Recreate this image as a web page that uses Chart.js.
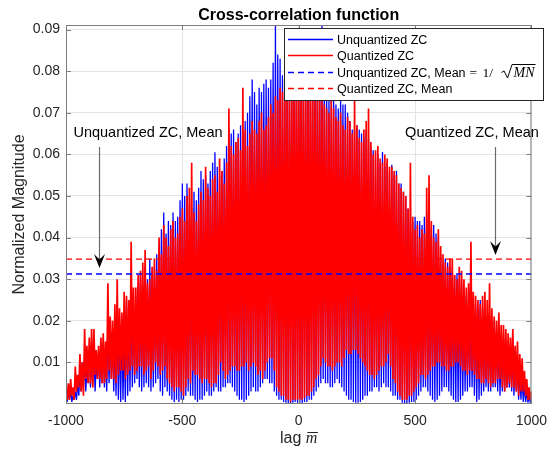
<!DOCTYPE html>
<html>
<head>
<meta charset="utf-8">
<script src="https://cdn.jsdelivr.net/npm/chart.js@4.4.0/dist/chart.umd.min.js"></script>
<style>
  html, body { margin: 0; padding: 0; background: #fff; }
  #wrap { width: 556px; height: 450px; position: relative; }
</style>
</head>
<body>
<div id="wrap"><canvas id="xcorrChart"></canvas></div>
<script>
// lag axis: -1000 .. 1000, one sample every 5 lags
const lagStart = -1000;
const lagStep = 5;

// |cross-correlation| (peak / trough alternating), one row = 100 lags
const unquantized = [
  0.002, 0.0005, 0.003, 0.001, 0.004, 0.0005, 0.002, 0.001, 0.003, 0.001, 0.005, 0.002, 0.008, 0.003, 0.010, 0.004, 0.012, 0.003, 0.009, 0.005,
  0.013, 0.004, 0.011, 0.005, 0.014, 0.003, 0.010, 0.006, 0.012, 0.004, 0.013, 0.005, 0.015, 0.004, 0.012, 0.003, 0.020, 0.005, 0.016, 0.006,
  0.018, 0.003, 0.015, 0.002, 0.022, 0.001, 0.019, 0.0005, 0.021, 0.001, 0.017, 0.0005, 0.025, 0.002, 0.022, 0.003, 0.028, 0.004, 0.024, 0.005,
  0.026, 0.006, 0.029, 0.004, 0.031, 0.003, 0.027, 0.004, 0.033, 0.005, 0.030, 0.004, 0.035, 0.003, 0.032, 0.004, 0.033, 0.005, 0.036, 0.006,
  0.038, 0.003, 0.042, 0.002, 0.046, 0.004, 0.041, 0.003, 0.044, 0.002, 0.043, 0.001, 0.046, 0.0005, 0.044, 0.001, 0.045, 0.0005, 0.049, 0.001,
  0.053, 0.001, 0.050, 0.002, 0.053, 0.003, 0.048, 0.002, 0.047, 0.002, 0.051, 0.001, 0.049, 0.0005, 0.052, 0.001, 0.056, 0.001, 0.054, 0.002,
  0.055, 0.003, 0.053, 0.002, 0.056, 0.002, 0.058, 0.003, 0.0605, 0.004, 0.057, 0.003, 0.055, 0.003, 0.056, 0.004, 0.059, 0.004, 0.062, 0.005,
  0.066, 0.005, 0.065, 0.004, 0.066, 0.003, 0.063, 0.002, 0.065, 0.001, 0.067, 0.001, 0.065, 0.0005, 0.068, 0.001, 0.070, 0.002, 0.074, 0.003,
  0.078, 0.004, 0.075, 0.003, 0.072, 0.003, 0.076, 0.004, 0.075, 0.005, 0.077, 0.006, 0.078, 0.006, 0.076, 0.005, 0.078, 0.005, 0.082, 0.003,
  0.091, 0.002, 0.084, 0.001, 0.083, 0.001, 0.079, 0.0005, 0.080, 0.0003, 0.078, 0.0002, 0.077, 0.0002, 0.080, 0.0003, 0.079, 0.0005, 0.081, 0.0003,
  0.081, 0.0003, 0.078, 0.0002, 0.079, 0.0005, 0.077, 0.0005, 0.076, 0.001, 0.079, 0.001, 0.078, 0.002, 0.081, 0.003, 0.080, 0.004, 0.084, 0.005,
  0.091, 0.006, 0.078, 0.005, 0.075, 0.005, 0.073, 0.004, 0.073, 0.004, 0.074, 0.005, 0.072, 0.006, 0.071, 0.005, 0.074, 0.004, 0.072, 0.003,
  0.072, 0.002, 0.070, 0.001, 0.068, 0.001, 0.066, 0.0005, 0.066, 0.0003, 0.067, 0.0003, 0.066, 0.0005, 0.065, 0.001, 0.064, 0.002, 0.066, 0.002,
  0.0635, 0.003, 0.062, 0.003, 0.061, 0.004, 0.059, 0.004, 0.060, 0.003, 0.058, 0.004, 0.0606, 0.005, 0.057, 0.004, 0.058, 0.004, 0.056, 0.003,
  0.0575, 0.002, 0.055, 0.002, 0.056, 0.001, 0.053, 0.001, 0.053, 0.0003, 0.051, 0.0002, 0.050, 0.0002, 0.047, 0.0003, 0.0447, 0.0005, 0.044, 0.0005,
  0.045, 0.001, 0.044, 0.002, 0.044, 0.003, 0.043, 0.004, 0.045, 0.004, 0.046, 0.003, 0.046, 0.002, 0.042, 0.001, 0.043, 0.0005, 0.041, 0.001,
  0.040, 0.002, 0.036, 0.003, 0.033, 0.004, 0.035, 0.004, 0.034, 0.003, 0.032, 0.002, 0.033, 0.001, 0.031, 0.0005, 0.031, 0.0005, 0.030, 0.001,
  0.029, 0.002, 0.027, 0.003, 0.026, 0.003, 0.028, 0.004, 0.027, 0.004, 0.025, 0.002, 0.024, 0.0005, 0.023, 0.001, 0.025, 0.002, 0.023, 0.003,
  0.022, 0.004, 0.020, 0.003, 0.021, 0.003, 0.019, 0.004, 0.020, 0.004, 0.018, 0.003, 0.017, 0.002, 0.016, 0.003, 0.016, 0.003, 0.015, 0.004,
  0.015, 0.004, 0.014, 0.003, 0.013, 0.002, 0.012, 0.003, 0.010, 0.001, 0.008, 0.001, 0.007, 0.0005, 0.005, 0.0005, 0.003, 0.0003, 0.002, 0.0003,
  0.002
];
const quantized = [
  0.003, 0.001, 0.005, 0.001, 0.006, 0.002, 0.004, 0.001, 0.009, 0.003, 0.007, 0.004, 0.012, 0.003, 0.010, 0.002, 0.018, 0.006, 0.014, 0.005,
  0.016, 0.005, 0.018, 0.004, 0.018, 0.007, 0.013, 0.006, 0.014, 0.006, 0.016, 0.005, 0.017, 0.005, 0.015, 0.006, 0.029, 0.008, 0.021, 0.006,
  0.020, 0.006, 0.024, 0.005, 0.030, 0.007, 0.023, 0.008, 0.022, 0.008, 0.027, 0.006, 0.026, 0.007, 0.025, 0.008, 0.039, 0.009, 0.028, 0.007,
  0.028, 0.008, 0.031, 0.009, 0.032, 0.009, 0.034, 0.007, 0.037, 0.008, 0.029, 0.009, 0.030, 0.006, 0.033, 0.008, 0.035, 0.010, 0.032, 0.009,
  0.040, 0.007, 0.036, 0.008, 0.043, 0.009, 0.040, 0.006, 0.038, 0.005, 0.042, 0.004, 0.044, 0.003, 0.040, 0.004, 0.041, 0.004, 0.045, 0.003,
  0.047, 0.002, 0.044, 0.004, 0.050, 0.006, 0.052, 0.005, 0.058, 0.008, 0.046, 0.007, 0.044, 0.007, 0.048, 0.006, 0.051, 0.005, 0.049, 0.006,
  0.057, 0.006, 0.052, 0.005, 0.050, 0.004, 0.054, 0.005, 0.055, 0.005, 0.051, 0.007, 0.059, 0.010, 0.056, 0.008, 0.053, 0.006, 0.058, 0.007,
  0.071, 0.008, 0.062, 0.009, 0.060, 0.009, 0.063, 0.008, 0.064, 0.008, 0.061, 0.009, 0.076, 0.009, 0.066, 0.010, 0.062, 0.008, 0.065, 0.009,
  0.068, 0.010, 0.066, 0.009, 0.065, 0.007, 0.068, 0.008, 0.070, 0.006, 0.066, 0.008, 0.067, 0.010, 0.069, 0.011, 0.072, 0.011, 0.070, 0.008,
  0.074, 0.004, 0.073, 0.003, 0.076, 0.002, 0.075, 0.002, 0.078, 0.001, 0.077, 0.001, 0.075, 0.0005, 0.079, 0.001, 0.080, 0.001, 0.078, 0.001,
  0.082, 0.001, 0.080, 0.001, 0.078, 0.0015, 0.077, 0.002, 0.076, 0.002, 0.078, 0.003, 0.079, 0.004, 0.076, 0.006, 0.074, 0.007, 0.075, 0.009,
  0.073, 0.011, 0.072, 0.010, 0.071, 0.009, 0.070, 0.009, 0.073, 0.008, 0.071, 0.009, 0.069, 0.010, 0.068, 0.010, 0.070, 0.009, 0.067, 0.011,
  0.066, 0.013, 0.069, 0.012, 0.068, 0.012, 0.065, 0.013, 0.073, 0.013, 0.067, 0.012, 0.064, 0.011, 0.063, 0.010, 0.066, 0.009, 0.068, 0.008,
  0.071, 0.007, 0.063, 0.007, 0.060, 0.006, 0.061, 0.007, 0.062, 0.008, 0.059, 0.009, 0.058, 0.009, 0.060, 0.010, 0.059, 0.012, 0.057, 0.009,
  0.057, 0.006, 0.056, 0.005, 0.055, 0.003, 0.053, 0.002, 0.052, 0.001, 0.051, 0.001, 0.050, 0.001, 0.047, 0.002, 0.058, 0.002, 0.045, 0.003,
  0.042, 0.004, 0.043, 0.005, 0.040, 0.007, 0.042, 0.007, 0.041, 0.006, 0.052, 0.007, 0.055, 0.008, 0.044, 0.009, 0.040, 0.009, 0.039, 0.010,
  0.042, 0.010, 0.038, 0.009, 0.036, 0.009, 0.034, 0.008, 0.033, 0.008, 0.035, 0.009, 0.035, 0.009, 0.031, 0.010, 0.030, 0.010, 0.033, 0.009,
  0.032, 0.008, 0.030, 0.008, 0.028, 0.007, 0.029, 0.008, 0.039, 0.008, 0.027, 0.007, 0.026, 0.006, 0.025, 0.006, 0.024, 0.005, 0.026, 0.005,
  0.027, 0.006, 0.025, 0.005, 0.029, 0.004, 0.023, 0.005, 0.021, 0.005, 0.020, 0.006, 0.022, 0.006, 0.019, 0.004, 0.019, 0.003, 0.018, 0.004,
  0.017, 0.005, 0.016, 0.004, 0.018, 0.004, 0.014, 0.003, 0.015, 0.002, 0.012, 0.003, 0.011, 0.003, 0.008, 0.002, 0.006, 0.001, 0.004, 0.001,
  0.003
];
const unquantizedMean = 0.03125;   // 1/sqrt(MN)
const quantizedMean = 0.0348;

const xTicks = [-1000, -500, 0, 500, 1000];
const yTicks = [0.01, 0.02, 0.03, 0.04, 0.05, 0.06, 0.07, 0.08, 0.09];
const legendLabels = ['Unquantized ZC', 'Quantized ZC', 'Unquantized ZC, Mean', 'Quantized ZC, Mean'];

const SANS = '"Liberation Sans", Arial, Helvetica, sans-serif';
const SERIF = '"Liberation Serif", "Times New Roman", "DejaVu Serif", serif';
const BLUE = '#0000ff';
const RED = '#ff0000';

const lags = unquantized.map((_, i) => lagStart + i * lagStep);
const toPoints = values => values.map((v, i) => ({ x: lags[i], y: v }));
const flatLine = v => [{ x: xTicks[0], y: v }, { x: xTicks[xTicks.length - 1], y: v }];

function drawArrow(ctx, x, y0, tipY) {
    ctx.strokeStyle = '#6b6b6b';
    ctx.lineWidth = 1.2;
    ctx.beginPath();
    ctx.moveTo(x, y0);
    ctx.lineTo(x, tipY - 8);
    ctx.stroke();
    ctx.fillStyle = '#000';
    ctx.beginPath();
    ctx.moveTo(x, tipY);
    ctx.lineTo(x - 5.5, tipY - 14);
    ctx.lineTo(x, tipY - 8.5);
    ctx.lineTo(x + 5.5, tipY - 14);
    ctx.closePath();
    ctx.fill();
}

function drawLegend(ctx) {
    const box = { x: 284, y: 28, w: 259, h: 72 };
    ctx.fillStyle = '#fff';
    ctx.fillRect(box.x, box.y, box.w, box.h);
    ctx.strokeStyle = '#262626';
    ctx.lineWidth = 1;
    ctx.strokeRect(box.x + 0.5, box.y + 0.5, box.w, box.h);

    const rows = [
        { y: 39, color: BLUE, dash: [] },
        { y: 55, color: RED, dash: [] },
        { y: 72, color: BLUE, dash: [6, 4] },
        { y: 88, color: RED, dash: [6, 4] }
    ];
    ctx.font = '12.5px ' + SANS;
    ctx.textAlign = 'left';
    ctx.textBaseline = 'alphabetic';
    rows.forEach((r, i) => {
        ctx.setLineDash(r.dash);
        ctx.strokeStyle = r.color;
        ctx.lineWidth = 1.5;
        ctx.beginPath();
        ctx.moveTo(288, r.y + 0.5);
        ctx.lineTo(333, r.y + 0.5);
        ctx.stroke();
        ctx.setLineDash([]);
        ctx.fillStyle = '#000';
        ctx.fillText(legendLabels[i], 337, r.y + 4.5);
    });

    // " = 1/ sqrt(MN)" on the third row
    const base = 76.5;
    const x = 337 + ctx.measureText(legendLabels[2]).width + 4;
    ctx.font = '13.5px ' + SERIF;
    ctx.fillText('=', x, base);
    ctx.fillText('1/', x + 13, base);
    const rx = x + 32;
    ctx.font = 'italic 14px ' + SERIF;
    const mnW = ctx.measureText('MN').width;
    ctx.strokeStyle = '#000';
    ctx.lineWidth = 1;
    ctx.beginPath();
    ctx.moveTo(rx, base - 4);
    ctx.lineTo(rx + 2.5, base - 5.5);
    ctx.lineTo(rx + 6, base + 1.5);
    ctx.lineTo(rx + 10.5, base - 12);
    ctx.lineTo(rx + 12 + mnW + 1, base - 12);
    ctx.stroke();
    ctx.fillText('MN', rx + 12, base);
}

const overlayPlugin = {
    id: 'matlabOverlay',
    afterDatasetsDraw(chart) {
        const { ctx, chartArea: a, scales } = chart;
        ctx.save();
        ctx.strokeStyle = '#7d7d7d';
        ctx.lineWidth = 1;
        ctx.strokeRect(a.left + 0.5, a.top + 0.5, a.right - a.left - 1, a.bottom - a.top - 1);
        ctx.beginPath();
        xTicks.forEach(v => {
            const px = Math.round(scales.x.getPixelForValue(v)) + 0.5;
            ctx.moveTo(px, a.bottom); ctx.lineTo(px, a.bottom - 5);
            ctx.moveTo(px, a.top); ctx.lineTo(px, a.top + 5);
        });
        yTicks.forEach(v => {
            const py = Math.round(scales.y.getPixelForValue(v)) + 0.5;
            ctx.moveTo(a.left, py); ctx.lineTo(a.left + 5, py);
            ctx.moveTo(a.right, py); ctx.lineTo(a.right - 5, py);
        });
        ctx.stroke();
        ctx.restore();
    },
    afterDraw(chart) {
        const { ctx, chartArea: a } = chart;
        const cx = (a.left + a.right) / 2;
        ctx.save();

        // title
        ctx.fillStyle = '#000';
        ctx.font = 'bold 16px ' + SANS;
        ctx.textAlign = 'center';
        ctx.textBaseline = 'alphabetic';
        ctx.fillText('Cross-correlation function', cx, 20);

        // y label
        ctx.save();
        ctx.fillStyle = '#262626';
        ctx.font = '16px ' + SANS;
        ctx.translate(24, (a.top + a.bottom) / 2);
        ctx.rotate(-Math.PI / 2);
        ctx.fillText('Normalized Magnitude', 0, 0);
        ctx.restore();

        // x label: lag m-bar
        ctx.fillStyle = '#262626';
        ctx.textAlign = 'left';
        ctx.font = '16px ' + SANS;
        const lagW = ctx.measureText('lag ').width;
        ctx.font = 'italic 16px ' + SERIF;
        const mW = ctx.measureText('m').width;
        const x0 = cx - (lagW + mW) / 2;
        ctx.font = '16px ' + SANS;
        ctx.fillText('lag ', x0, 443);
        ctx.font = 'italic 16px ' + SERIF;
        ctx.fillText('m', x0 + lagW, 443);
        ctx.strokeStyle = '#262626';
        ctx.lineWidth = 1;
        ctx.beginPath();
        ctx.moveTo(x0 + lagW + 1.5, 432.5);
        ctx.lineTo(x0 + lagW + mW + 0.5, 432.5);
        ctx.stroke();

        // annotations
        ctx.fillStyle = '#000';
        ctx.font = '14.5px ' + SANS;
        ctx.textAlign = 'center';
        ctx.fillText('Unquantized ZC, Mean', 148, 137);
        ctx.fillText('Quantized ZC, Mean', 472, 137);
        drawArrow(ctx, 99.5, 147, 268);
        drawArrow(ctx, 495.5, 147, 255);

        drawLegend(ctx);
        ctx.restore();
    }
};

const lineStyle = { pointRadius: 0, fill: false, tension: 0, borderJoinStyle: 'bevel' };

new Chart(document.getElementById('xcorrChart').getContext('2d'), {
    type: 'line',
    data: {
        datasets: [
            { ...lineStyle, label: legendLabels[0], data: toPoints(unquantized), borderColor: BLUE, borderWidth: 1.3, order: 4 },
            { ...lineStyle, label: legendLabels[1], data: toPoints(quantized), borderColor: RED, borderWidth: 1.7, order: 3 },
            { ...lineStyle, label: legendLabels[2], data: flatLine(unquantizedMean), borderColor: BLUE, borderWidth: 1.3, borderDash: [6, 4], order: 2 },
            { ...lineStyle, label: legendLabels[3], data: flatLine(quantizedMean), borderColor: RED, borderWidth: 1.3, borderDash: [6, 4], order: 1 }
        ]
    },
    options: {
        responsive: true,
        maintainAspectRatio: false,
        devicePixelRatio: 1,
        animation: false,
        events: [],
        layout: { padding: { top: 25, right: 10, left: 0, bottom: 0 } },
        plugins: {
            legend: { display: false },
            title: { display: false },
            tooltip: { enabled: false }
        },
        scales: {
            x: {
                type: 'linear',
                min: -1000,
                max: 1000,
                afterBuildTicks: s => { s.ticks = xTicks.map(v => ({ value: v })); },
                afterFit: s => { s.height = 46; },
                grid: { color: '#e4e4e4', drawTicks: false },
                border: { display: false },
                ticks: {
                    padding: 9,
                    color: '#262626',
                    font: { family: SANS, size: 14 },
                    maxRotation: 0,
                    autoSkip: false,
                    callback: v => String(v)
                }
            },
            y: {
                type: 'linear',
                min: 0,
                max: 0.0911,
                afterBuildTicks: s => { s.ticks = yTicks.map(v => ({ value: v })); },
                afterFit: s => { s.width = 66; },
                grid: { color: '#e4e4e4', drawTicks: false },
                border: { display: false },
                ticks: {
                    padding: 6,
                    color: '#262626',
                    font: { family: SANS, size: 14 },
                    callback: v => v.toFixed(2)
                }
            }
        }
    },
    plugins: [overlayPlugin]
});
</script>
</body>
</html>
